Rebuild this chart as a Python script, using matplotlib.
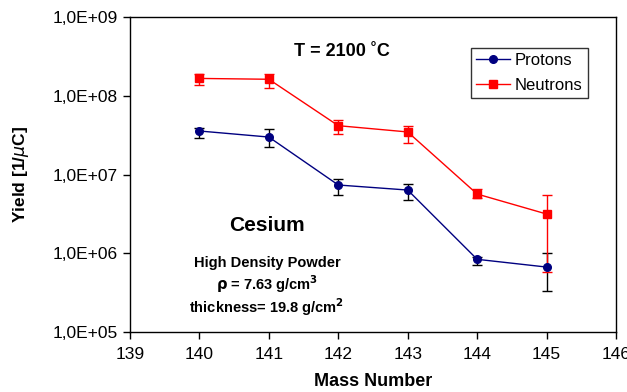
import math
import matplotlib
matplotlib.use("Agg")
import matplotlib.pyplot as plt
from matplotlib.ticker import FixedLocator, FuncFormatter, NullLocator

plt.rcParams['font.family'] = ['Liberation Sans', 'DejaVu Sans']

# yields per mass number, with lower / upper error bar ends
mass = [140, 141, 142, 143, 144, 145]

protons = [3.57e7, 2.99e7, 7.36e6, 6.35e6, 8.38e5, 6.68e5]
protons_lo = [2.93e7, 2.23e7, 5.44e6, 4.74e6, 7.1e5, 3.32e5]
protons_hi = [3.93e7, 3.75e7, 8.85e6, 7.64e6, 8.95e5, 1.02e6]

neutrons = [1.66e8, 1.62e8, 4.17e7, 3.47e7, 5.65e6, 3.15e6]
neutrons_lo = [1.37e8, 1.24e8, 3.27e7, 2.53e7, 5.08e6, 5.73e5]
neutrons_hi = [1.89e8, 1.90e8, 4.97e7, 4.17e7, 6.46e6, 5.5e6]

y_ticks = [1e5, 1e6, 1e7, 1e8, 1e9]


def err(vals, lo, hi):
    return [[v - l for v, l in zip(vals, lo)], [h - v for v, h in zip(vals, hi)]]


fig = plt.figure(figsize=(6.27, 3.92), dpi=100)
ax = fig.add_axes([0.2073, 0.153, 0.7752, 0.8036])

ax.errorbar(mass, protons, yerr=err(protons, protons_lo, protons_hi), fmt='none',
            ecolor='black', elinewidth=1, capsize=3.5, capthick=1, zorder=2)
ax.errorbar(mass, neutrons, yerr=err(neutrons, neutrons_lo, neutrons_hi), fmt='none',
            ecolor='#ff0000', elinewidth=1, capsize=3.5, capthick=1, zorder=2)
ax.plot(mass, protons, '-o', color='#000080', lw=1, ms=5.5, label='Protons', zorder=3)
ax.plot(mass, neutrons, '-s', color='#ff0000', lw=1, ms=5.5, label='Neutrons', zorder=3)

ax.set_yscale('log')
ax.set_ylim(1e5, 1e9)
ax.set_xlim(139, 146)
ax.yaxis.set_major_locator(FixedLocator(y_ticks))
ax.yaxis.set_minor_locator(NullLocator())
ax.yaxis.set_major_formatter(FuncFormatter(lambda v, p: '1,0E+%02d' % round(math.log10(v))))
ax.set_xticks(range(139, 147))

ax.tick_params(axis='both', direction='out', length=5, width=1, labelsize=12.5, colors='black')
ax.tick_params(axis='x', pad=6)
for s in ax.spines.values():
    s.set_linewidth(1)

ax.set_xlabel('Mass Number', fontsize=13, fontweight='bold', labelpad=8)
ax.set_ylabel(r'Yield [1/$\mu$C]', fontsize=12.5, fontweight='bold', labelpad=16)

leg = ax.legend(loc='upper right', bbox_to_anchor=(0.942, 0.9025), fontsize=12,
                frameon=True, fancybox=False, edgecolor='black', handlelength=2.0,
                borderpad=0.32, labelspacing=0.6, handletextpad=0.3, borderaxespad=0)
leg.get_frame().set_linewidth(1)

# annotation texts inside the plot area
fig.text(342 / 627, 1 - 52 / 392, 'T = 2100 ˚C', fontsize=13, fontweight='bold',
         ha='center', va='center')
fig.text(267 / 627, 1 - 225 / 392, 'Cesium', fontsize=15, fontweight='bold',
         ha='center', va='center')
fig.text(267 / 627, 1 - 263 / 392, 'High Density Powder', fontsize=10.5,
         fontweight='bold', ha='center', va='center')
fig.text(267 / 627, 1 - 284 / 392, r'$\mathbf{\rho}$ = 7.63 g/cm$^\mathbf{3}$',
         fontsize=10.5, fontweight='bold', ha='center', va='center')
fig.text(267 / 627, 1 - 307 / 392, r'thickness= 19.8 g/cm$^\mathbf{2}$',
         fontsize=10.5, fontweight='bold', ha='center', va='center')

fig.savefig('out.png', dpi=100)
